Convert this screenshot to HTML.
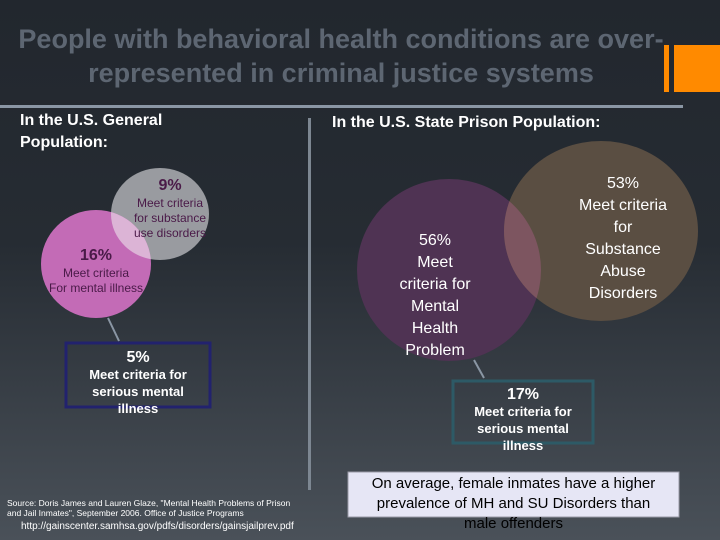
<!DOCTYPE html>
<html><head><meta charset="utf-8"><style>
body{margin:0;width:720px;height:540px;overflow:hidden;font-family:"Liberation Sans",sans-serif}
#bg{position:absolute;left:0;top:0;width:720px;height:540px;background:linear-gradient(#22272e 0%,#262c33 45%,#4a5159 100%)}
.t{position:absolute;white-space:nowrap;text-align:center}
</style></head><body>
<div id="bg"></div>
<svg width="720" height="540" style="position:absolute;left:0;top:0">
<defs>
<clipPath id="cg"><ellipse cx="160" cy="214" rx="49" ry="46"/></clipPath>
<clipPath id="cb"><ellipse cx="601" cy="231" rx="97" ry="90"/></clipPath>
</defs>
<rect x="664" y="45" width="5" height="47" fill="#ff8a00"/>
<rect x="674" y="45" width="46" height="47" fill="#ff8a00"/>
<rect x="0" y="105" width="683" height="3" fill="#8a96a4"/>
<rect x="308" y="118" width="3" height="372" fill="#7d8792"/>
<ellipse cx="160" cy="214" rx="49" ry="46" fill="#999ba0"/>
<ellipse cx="96" cy="264" rx="55" ry="54" fill="#c36bb6"/>
<ellipse cx="96" cy="264" rx="55" ry="54" fill="#dcb4d6" clip-path="url(#cg)"/>
<line x1="108" y1="318" x2="119" y2="341" stroke="#8a96a4" stroke-width="2"/>
<rect x="66" y="343" width="144" height="64" fill="none" stroke="#22226e" stroke-width="3"/>
<ellipse cx="449" cy="270" rx="92" ry="91" fill="#4f3353"/>
<ellipse cx="601" cy="231" rx="97" ry="90" fill="#5a4e42"/>
<ellipse cx="449" cy="270" rx="92" ry="91" fill="#7d5560" clip-path="url(#cb)"/>
<line x1="474" y1="360" x2="484" y2="378" stroke="#8a96a4" stroke-width="2"/>
<rect x="453" y="381" width="140" height="62" fill="none" stroke="#2d5a66" stroke-width="3"/>
<rect x="348" y="472" width="331" height="45" fill="#e6e6f5" stroke="#9a9aa6"/>
</svg>
<div class="t" style="left:0;width:682px;top:22px;font-size:27px;font-weight:bold;color:#5d6672;line-height:34px">People with behavioral health conditions are over-<br>represented in criminal justice systems</div>
<div class="t" style="left:20px;top:110px;text-align:left;font-size:16px;font-weight:bold;color:#fff;line-height:22px">In the U.S. General<br>Population:</div>
<div class="t" style="left:332px;top:114px;font-size:16px;font-weight:bold;color:#fff">In the U.S. State Prison Population:</div>
<div class="t" style="left:120px;width:100px;top:176px;color:#4a1a48;font-size:12px;line-height:15px"><span id="v1" style="font-size:16px;font-weight:bold;line-height:20px">9%</span><br>Meet criteria<br>for substance<br>use disorders</div>
<div class="t" style="left:40px;width:112px;top:246px;color:#4a1a48;font-size:12px;line-height:15px"><span id="v2" style="font-size:16px;font-weight:bold;line-height:20px">16%</span><br>Meet criteria<br>For mental illness</div>
<div class="t" style="left:66px;width:144px;top:349px;color:#fff;font-size:13px;line-height:17px;font-weight:bold"><span id="v3" style="font-size:16px">5%</span><br>Meet criteria for<br>serious mental<br>illness</div>
<div class="t" style="left:380px;width:110px;top:230px;color:#fff;font-size:16px;line-height:22px"><span id="v4">56%</span><br>Meet<br>criteria for<br>Mental<br>Health<br>Problem</div>
<div class="t" style="left:563px;width:120px;top:173px;color:#fff;font-size:16px;line-height:22px"><span id="v5">53%</span><br>Meet criteria<br>for<br>Substance<br>Abuse<br>Disorders</div>
<div class="t" style="left:453px;width:140px;top:386px;color:#fff;font-size:13px;line-height:17px;font-weight:bold"><span id="v6" style="font-size:16px">17%</span><br>Meet criteria for<br>serious mental<br>illness</div>
<div class="t" style="left:348px;width:331px;top:474px;color:#000;font-size:15px;line-height:20px">On average, female inmates have a higher<br>prevalence of MH and SU Disorders than<br>male offenders</div>
<div class="t" style="left:7px;top:498px;text-align:left;color:#fff;font-size:8.5px;line-height:10px">Source: Doris James and Lauren Glaze, "Mental Health Problems of Prison<br>and Jail Inmates", September 2006. Office of Justice Programs</div>
<div class="t" style="left:21px;top:521px;color:#fff;font-size:10px">http://gainscenter.samhsa.gov/pdfs/disorders/gainsjailprev.pdf</div>
<script>
const labels = ["v1","v2","v3","v4","v5","v6"];
const percents = [9,16,5,56,53,17];
labels.forEach((id,i)=>{document.getElementById(id).textContent = percents[i] + "%";});
</script>
</body></html>
